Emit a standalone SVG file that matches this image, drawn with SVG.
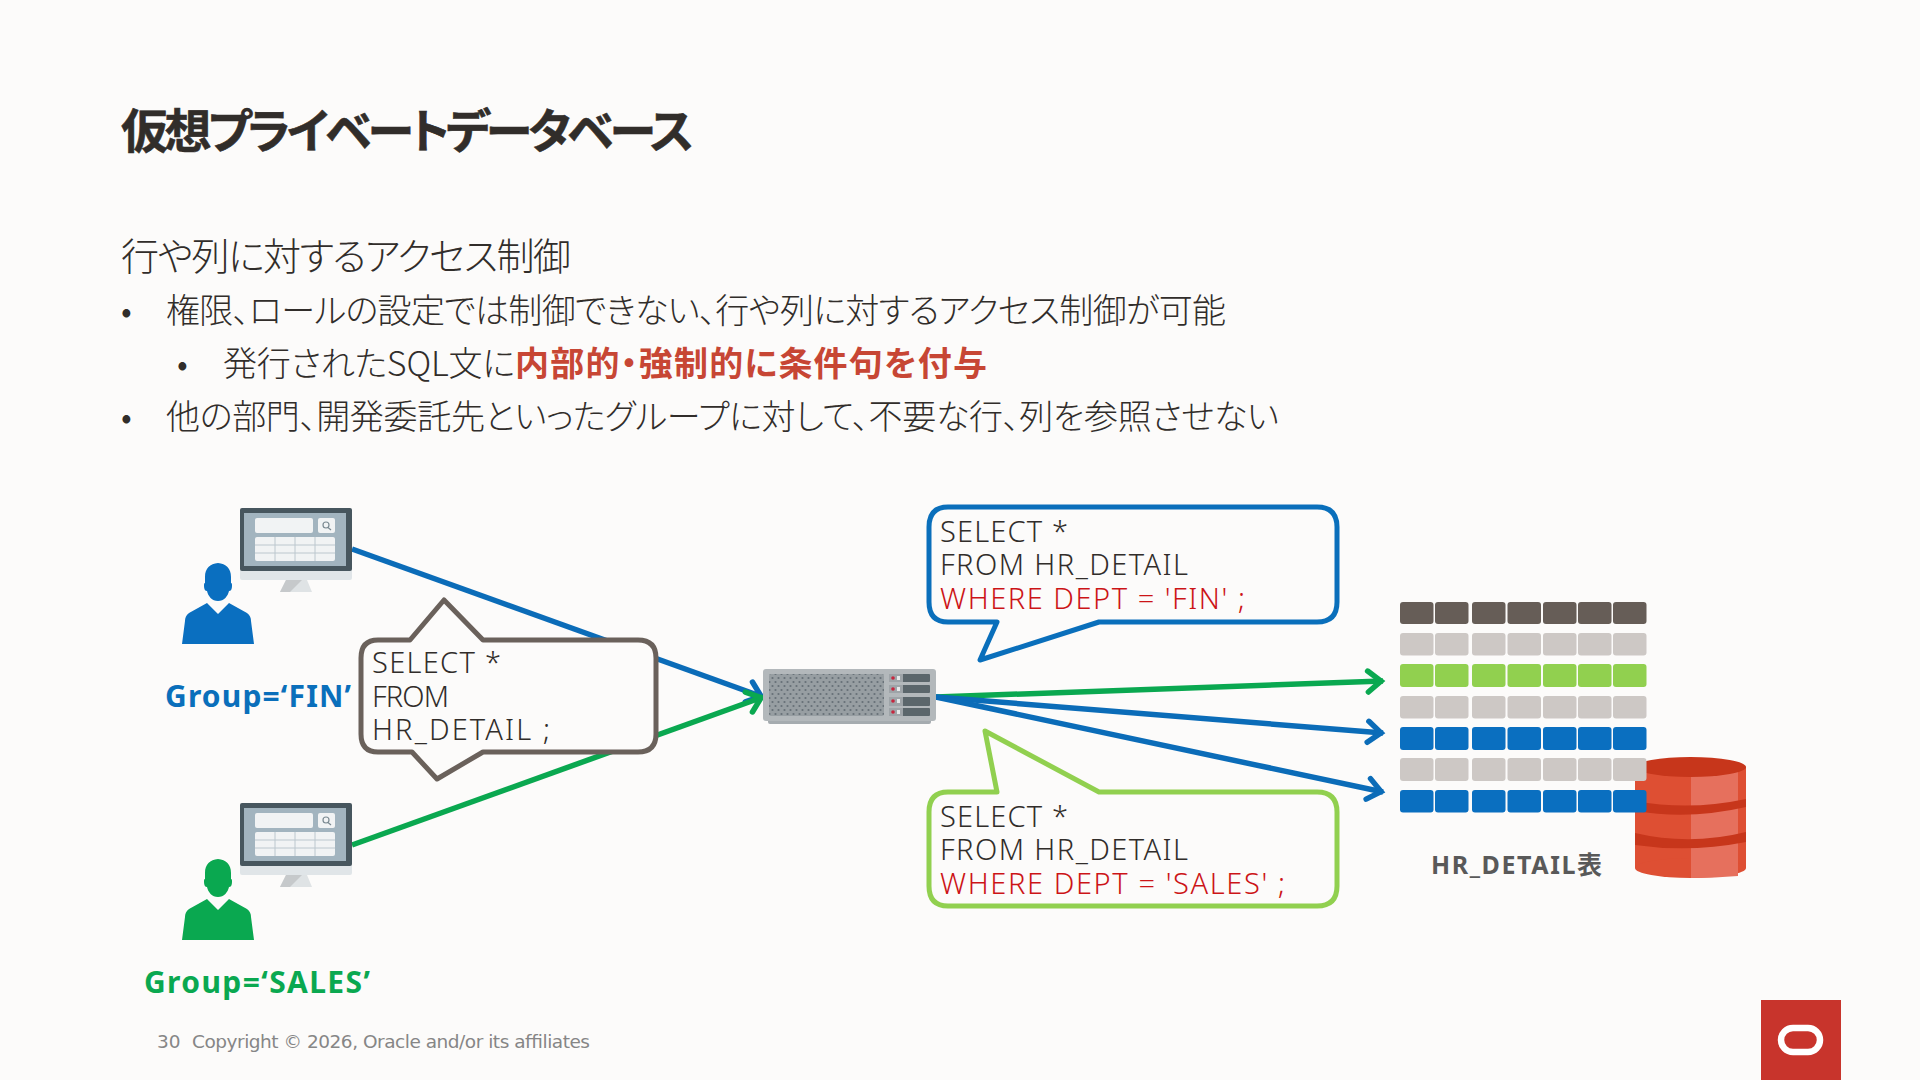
<svg xmlns="http://www.w3.org/2000/svg" xmlns:xlink="http://www.w3.org/1999/xlink" width="1920" height="1080" viewBox="0 0 1920 1080">
<style>
text{font-family:"Noto Sans CJK JP","Noto Sans",sans-serif;fill:#312d2a}
.title{font-size:47px;font-weight:700;font-feature-settings:"palt";stroke:#312d2a;stroke-width:.6}
.sub{font-size:38px;font-weight:300;font-feature-settings:"palt"}
.b{font-size:34px;font-weight:300;font-feature-settings:"palt"}
.red{font-weight:700;fill:#c74634}
.sql{font-family:"Noto Sans","Noto Sans CJK JP",sans-serif;font-size:29px;font-weight:300}
.rq{fill:#cc1417}
.grp{font-family:"Noto Sans","Lato",sans-serif;font-size:30px;font-weight:700}
.cap{font-family:"Noto Sans","Noto Sans CJK JP",sans-serif;font-size:25px;font-weight:700;fill:#595959}
.foot{font-family:"DejaVu Sans",sans-serif;font-size:18.500px;fill:#868686}
.conn{fill:none;stroke-width:5.5}
.bl{stroke:#0b6cb8}.gn{stroke:#0aa850}
.call{fill:#fcfbfa;stroke-width:5;stroke-linejoin:round}
.c-h{fill:#665d57}.c-g{fill:#cdc8c5}.c-l{fill:#91d04f}.c-b{fill:#0a6fc0}
</style>
<defs>
<marker id="ab" markerUnits="userSpaceOnUse" markerWidth="24" markerHeight="28" refX="20" refY="14" orient="auto"><path d="M5 3.5L18 14L5 24.5" fill="none" stroke="#0b6cb8" stroke-width="5.5" stroke-linecap="round"/></marker>
<marker id="ag" markerUnits="userSpaceOnUse" markerWidth="24" markerHeight="28" refX="20" refY="14" orient="auto"><path d="M5 3.5L18 14L5 24.5" fill="none" stroke="#0aa850" stroke-width="5.5" stroke-linecap="round"/></marker>
<pattern id="dots" width="6" height="8" patternUnits="userSpaceOnUse"><rect width="6" height="8" fill="#979ea2"/><circle cx="1.5" cy="2" r="1.1" fill="#667077"/><circle cx="4.5" cy="6" r="1.1" fill="#667077"/></pattern>
<g id="monitor">
<rect x="0" y="60" width="112" height="12" rx="2" fill="#e0e5e8"/>
<rect x="0" y="0" width="112" height="63" rx="2" fill="#47565e"/>
<rect x="4" y="5" width="102" height="53" fill="#a2b4bf"/>
<rect x="15" y="10" width="58" height="15" rx="2" fill="#f1f3f4"/>
<rect x="78" y="10" width="17" height="15" rx="2" fill="#f1f3f4"/>
<circle cx="86" cy="17" r="3" fill="none" stroke="#7b8a92" stroke-width="1.2"/><path d="M88 19.5L91 22" stroke="#7b8a92" stroke-width="1.2"/>
<rect x="15" y="29" width="80" height="24" rx="2" fill="#f1f3f4"/>
<path d="M35 29V53M55 29V53M75 29V53M15 37H95M15 45H95" stroke="#bcc7ce" stroke-width="1"/>
<path d="M46 72H67L72 84H40Z" fill="#dfe3e5"/><path d="M46 72H62L50 84H40Z" fill="#c6c9cb"/>
</g>
<path id="person" d="M36 0C44 1 49 5 49 14V20C50 20 50 21 50 23C50 26 49 28 47 28C46 33 42 38 36 38C30 38 26 33 25 28C23 28 22 26 22 23C22 21 22 20 23 20V14C23 5 28 1 36 0ZM25 40L36 51L47 40L65 50C68 52 69 55 69 58L72 81H0L3 58C3 55 4 52 7 50Z"/>
</defs>
<rect width="1920" height="1080" fill="#fcfbfa"/>

<g id="heading">
<text class="title" x="121" y="148" textLength="573">仮想プライベートデータベース</text>
<text class="sub" x="121" y="270" textLength="450">行や列に対するアクセス制御</text>
<text class="b" x="121" y="323">•</text>
<text class="b" x="166" y="323" textLength="1060">権限、ロールの設定では制御できない、行や列に対するアクセス制御が可能</text>
<text class="b" x="177" y="376">•</text>
<text class="b" x="223" y="376" textLength="292">発行されたSQL文に</text>
<text class="b red" x="515" y="376" textLength="472">内部的・強制的に条件句を付与</text>
<text class="b" x="121" y="429">•</text>
<text class="b" x="166" y="429" textLength="1113">他の部門、開発委託先といったグループに対して、不要な行、列を参照させない</text>
</g>

<g id="connectors">
<path class="conn bl" d="M352 549L763 697" marker-end="url(#ab)"/>
<path class="conn gn" d="M352 845L763 697" marker-end="url(#ag)"/>
<path class="conn gn" d="M936 697L1383 681" marker-end="url(#ag)"/>
<path class="conn bl" d="M936 697L1383 733" marker-end="url(#ab)"/>
<path class="conn bl" d="M936 697L1383 792" marker-end="url(#ab)"/>
</g>

<g id="client-fin">
<use xlink:href="#monitor" href="#monitor" x="240" y="508"/>
<use xlink:href="#person" href="#person" x="182" y="563" fill="#0a6fc0"/>
<text class="grp" x="165" y="707" style="fill:#0a6fbb" textLength="186">Group=‘FIN’</text>
</g>
<g id="client-sales">
<use xlink:href="#monitor" href="#monitor" x="240" y="803"/>
<use xlink:href="#person" href="#person" x="182" y="859" fill="#0aa850"/>
<text class="grp" x="144" y="993" style="fill:#0aa850" textLength="226">Group=‘SALES’</text>
</g>

<g id="callout-query">
<path class="call" stroke="#6a615b" d="M378 640H410L444 600L483 640H638Q656 640 656 658V734Q656 752 638 752H483L437 779L412 752H378Q361 752 361 734V658Q361 640 378 640Z"/>
<text class="sql" x="372" y="673" textLength="129">SELECT *</text>
<text class="sql" x="372" y="707" textLength="77">FROM</text>
<text class="sql" x="372" y="740" textLength="178">HR_DETAIL ;</text>
</g>

<g id="server">
<rect x="768" y="715" width="163" height="9" rx="2" fill="#a5abaf"/>
<rect x="763" y="669" width="173" height="52" rx="3" fill="#b3b8bb"/>
<rect x="769" y="674" width="115" height="42" rx="2" fill="url(#dots)"/>
<g fill="#5b666b">
<rect x="889" y="674" width="41" height="8" rx="1"/><rect x="889" y="685" width="41" height="8" rx="1"/><rect x="889" y="697" width="41" height="9" rx="1"/><rect x="889" y="708" width="41" height="8" rx="1"/>
</g>
<g fill="#9ea4a8"><rect x="889" y="674" width="14" height="8"/><rect x="889" y="685" width="14" height="8"/><rect x="889" y="697" width="14" height="9"/><rect x="889" y="708" width="14" height="8"/></g>
<g fill="#c7263e"><circle cx="893" cy="678" r="1.8"/><circle cx="893" cy="689" r="1.8"/><circle cx="893" cy="701" r="1.8"/><circle cx="893" cy="712" r="1.8"/></g>
<g fill="#e6e8e9"><rect x="897" y="676" width="3" height="4"/><rect x="897" y="687" width="3" height="4"/><rect x="897" y="699" width="3" height="4"/><rect x="897" y="710" width="3" height="4"/></g>
</g>

<g id="callout-fin">
<path class="call" stroke="#0a6fbb" d="M948 507H1317Q1337 507 1337 527V602Q1337 622 1317 622H1099L980 660L997 622H948Q929 622 929 602V527Q929 507 948 507Z"/>
<text class="sql" x="940" y="542" textLength="128">SELECT *</text>
<text class="sql" x="940" y="575" textLength="248">FROM HR_DETAIL</text>
<text class="sql rq" x="940" y="609" textLength="305">WHERE DEPT = 'FIN' ;</text>
</g>
<g id="callout-sales">
<path class="call" stroke="#91d04f" d="M948 792H997L985 731L1099 792H1317Q1337 792 1337 812V886Q1337 906 1317 906H948Q929 906 929 886V812Q929 792 948 792Z"/>
<text class="sql" x="940" y="827" textLength="128">SELECT *</text>
<text class="sql" x="940" y="860" textLength="248">FROM HR_DETAIL</text>
<text class="sql rq" x="940" y="894" textLength="345">WHERE DEPT = 'SALES' ;</text>
</g>

<g id="database">
<rect x="1635" y="767" width="111" height="101" fill="#de4f33"/>
<ellipse cx="1690.500" cy="868" rx="55.500" ry="10" fill="#de4f33"/>
<path d="M1691 767H1738V876Q1715 878 1691 878Z" fill="#e6705d"/>
<path d="M1635 801Q1690 811 1746 799V807Q1690 820 1635 811ZM1635 833Q1690 846 1746 832V842Q1690 853 1635 845Z" fill="#c7361b"/>
<ellipse cx="1690.500" cy="767" rx="55.500" ry="10" fill="#c7361b"/>
</g>

<g id="table-hr-detail">
<g class="c-h" id="r1"><rect x="1400" y="602" width="33.500" height="22" rx="3"/><rect x="1435" y="602" width="33.500" height="22" rx="3"/><rect x="1472" y="602" width="33.500" height="22" rx="3"/><rect x="1507.500" y="602" width="33.500" height="22" rx="3"/><rect x="1543" y="602" width="33.500" height="22" rx="3"/><rect x="1578" y="602" width="33.500" height="22" rx="3"/><rect x="1613" y="602" width="33.500" height="22" rx="3"/></g>
<g class="c-g"><rect x="1400" y="633" width="33.500" height="22.500" rx="3"/><rect x="1435" y="633" width="33.500" height="22.500" rx="3"/><rect x="1472" y="633" width="33.500" height="22.500" rx="3"/><rect x="1507.500" y="633" width="33.500" height="22.500" rx="3"/><rect x="1543" y="633" width="33.500" height="22.500" rx="3"/><rect x="1578" y="633" width="33.500" height="22.500" rx="3"/><rect x="1613" y="633" width="33.500" height="22.500" rx="3"/></g>
<g class="c-l"><rect x="1400" y="664" width="33.500" height="23" rx="3"/><rect x="1435" y="664" width="33.500" height="23" rx="3"/><rect x="1472" y="664" width="33.500" height="23" rx="3"/><rect x="1507.500" y="664" width="33.500" height="23" rx="3"/><rect x="1543" y="664" width="33.500" height="23" rx="3"/><rect x="1578" y="664" width="33.500" height="23" rx="3"/><rect x="1613" y="664" width="33.500" height="23" rx="3"/></g>
<g class="c-g"><rect x="1400" y="696" width="33.500" height="22.500" rx="3"/><rect x="1435" y="696" width="33.500" height="22.500" rx="3"/><rect x="1472" y="696" width="33.500" height="22.500" rx="3"/><rect x="1507.500" y="696" width="33.500" height="22.500" rx="3"/><rect x="1543" y="696" width="33.500" height="22.500" rx="3"/><rect x="1578" y="696" width="33.500" height="22.500" rx="3"/><rect x="1613" y="696" width="33.500" height="22.500" rx="3"/></g>
<g class="c-b"><rect x="1400" y="727" width="33.500" height="23" rx="3"/><rect x="1435" y="727" width="33.500" height="23" rx="3"/><rect x="1472" y="727" width="33.500" height="23" rx="3"/><rect x="1507.500" y="727" width="33.500" height="23" rx="3"/><rect x="1543" y="727" width="33.500" height="23" rx="3"/><rect x="1578" y="727" width="33.500" height="23" rx="3"/><rect x="1613" y="727" width="33.500" height="23" rx="3"/></g>
<g class="c-g"><rect x="1400" y="758" width="33.500" height="23" rx="3"/><rect x="1435" y="758" width="33.500" height="23" rx="3"/><rect x="1472" y="758" width="33.500" height="23" rx="3"/><rect x="1507.500" y="758" width="33.500" height="23" rx="3"/><rect x="1543" y="758" width="33.500" height="23" rx="3"/><rect x="1578" y="758" width="33.500" height="23" rx="3"/><rect x="1613" y="758" width="33.500" height="23" rx="3"/></g>
<g class="c-b"><rect x="1400" y="790" width="33.500" height="22.500" rx="3"/><rect x="1435" y="790" width="33.500" height="22.500" rx="3"/><rect x="1472" y="790" width="33.500" height="22.500" rx="3"/><rect x="1507.500" y="790" width="33.500" height="22.500" rx="3"/><rect x="1543" y="790" width="33.500" height="22.500" rx="3"/><rect x="1578" y="790" width="33.500" height="22.500" rx="3"/><rect x="1613" y="790" width="33.500" height="22.500" rx="3"/></g>
<text class="cap" x="1431" y="874" textLength="171">HR_DETAIL表</text>
</g>

<g id="footer">
<text class="foot" x="157" y="1048">30</text>
<text class="foot" x="192" y="1048" textLength="398">Copyright © 2026, Oracle and/or its affiliates</text>
<rect x="1761" y="1000" width="80" height="80" fill="#c8342c"/>
<rect x="1781" y="1028" width="39" height="24" rx="12" fill="none" stroke="#fff" stroke-width="6.500"/>
</g>
</svg>
